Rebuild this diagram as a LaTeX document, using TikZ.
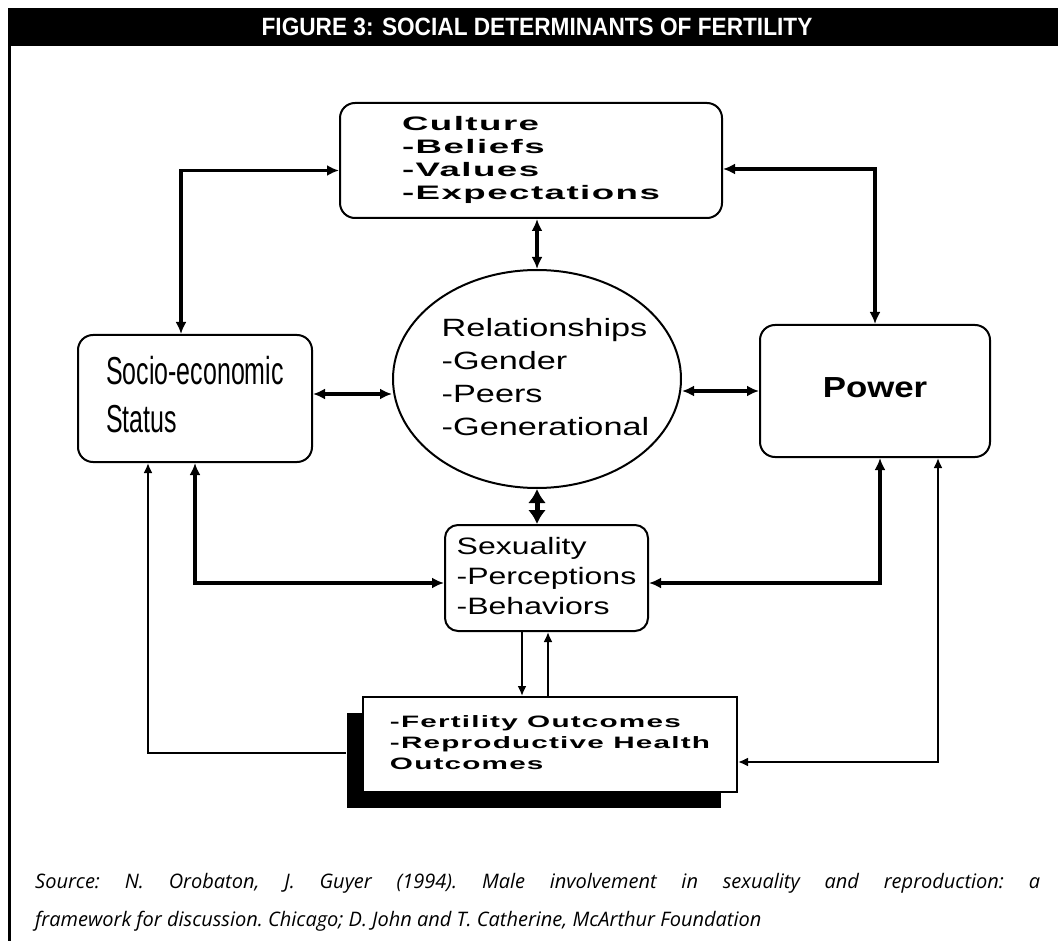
\documentclass[tikz,border=0pt]{standalone}
\usepackage{fontspec}
\usepackage{graphicx}
\setmainfont{Liberation Sans}
\newfontfamily\srcfont{Open Sans}
\usetikzlibrary{arrows.meta,shapes.geometric,shadows}

\newcommand\wideblock[2]{\scalebox{#1}[1]{\begin{tabular}{@{}l@{}}#2\end{tabular}}}
\newcommand\spaced{\bfseries\addfontfeature{LetterSpace=4}}

\tikzset{
  box/.style={draw, line width=2pt, rounded corners=15pt, inner sep=0pt},
  conn/.style={line width=3.2pt, <->},
  thinconn/.style={line width=2pt, >={Latex[length=10pt,width=9pt]}},
  fatconn/.style={line width=5pt, {Latex[length=14pt,width=18pt]}-{Latex[length=14pt,width=18pt]}},
}

\begin{document}
\begin{tikzpicture}[x=1pt,y=-1pt,>={Latex[length=12pt,width=11pt]}]
  \useasboundingbox (0,0) rectangle (1058,941);

  % title bar and frame
  \fill (8,8) rectangle (1058,46);
  \node[text=white, inner sep=0pt] (title) at (537,27)
    {\fontsize{25}{30}\selectfont\bfseries\scalebox{0.906}[1]{FIGURE 3: SOCIAL DETERMINANTS OF FERTILITY}};
  \draw[line width=3pt] (9.5,46) -- (9.5,941);

  % boxes
  \node[box, minimum width=382pt, minimum height=115pt] (culture) at (531,160.5)
    {\fontsize{19.5}{23}\selectfont\spaced\wideblock{1.88}{Culture\\-Beliefs\\-Values\\-Expectations}};
  \node[draw, ellipse, line width=2pt, minimum width=288pt, minimum height=218pt, inner sep=0pt] (rel) at (537,379)
    {\makebox[0pt]{\hspace{17pt}\fontsize{25}{33}\selectfont\wideblock{1.37}{Relationships\\-Gender\\-Peers\\-Generational}}};
  \node[box, minimum width=234pt, minimum height=127pt] (socio) at (195,398.5)
    {\fontsize{39}{48}\selectfont\wideblock{0.64}{Socio-economic\\Status}};
  \node[box, minimum width=230pt, minimum height=132pt] (power) at (875,391)
    {\fontsize{29}{34}\selectfont\bfseries\wideblock{1.2}{Power}};
  \node[box, rounded corners=13pt, minimum width=203pt, minimum height=106pt] (sex) at (546.5,578)
    {\fontsize{23.7}{30}\selectfont\wideblock{1.35}{Sexuality\\-Perceptions\\-Behaviors}};
  \node[draw, fill=white, line width=2pt, minimum width=374pt, minimum height=95pt, inner sep=0pt,
        general shadow={fill=black, shadow xshift=-16pt, shadow yshift=-16pt}] (out) at (550,744.5)
    {\fontsize{16.5}{21}\selectfont\spaced\wideblock{1.8}{-Fertility Outcomes\\-Reproductive Health\\Outcomes}};

  % connections
  \draw[conn] ([xshift=-14pt]socio.north) |- ([yshift=-10pt]culture.west);
  \draw[conn] ([yshift=-8.5pt]culture.east) -| (power.north);
  \draw[conn] (culture.south -| rel.north) -- (rel.north);
  \coordinate (soc-e) at ([yshift=4.5pt]socio.east);
  \draw[conn] (soc-e) -- (soc-e -| rel.west);
  \draw[conn] (power.west -| rel.east) -- (power.west);
  \draw[fatconn] (rel.south) -- (rel.south |- sex.north);
  \draw[conn] (socio.south) |- ([yshift=-5pt]sex.west);
  \draw[conn] ([xshift=5pt]power.south) |- ([yshift=-5pt]sex.east);

  % outcome links
  \draw[thinconn, <-] ([xshift=-47pt]socio.south) |- ([xshift=-16pt,yshift=-8.5pt]out.west);
  \draw[thinconn, <->] ([xshift=63pt]power.south) |- ([yshift=-17.5pt]out.east);
  \coordinate (sex-dn) at ([xshift=-24.5pt]sex.south);
  \coordinate (sex-up) at ([xshift=1.5pt]sex.south);
  \draw[thinconn, ->] (sex-dn) -- (sex-dn |- out.north);
  \draw[thinconn, ->] (sex-up |- out.north) -- (sex-up);

  % source
  \node[anchor=base west, inner sep=0pt] (source) at (35,888)
    {\parbox[t]{1005pt}{\srcfont\itshape\fontsize{20}{38}\selectfont\frenchspacing Source: N. Orobaton, J. Guyer (1994). Male involvement in sexuality and reproduction: a\linebreak framework for discussion. Chicago; D. John and T. Catherine, McArthur Foundation}};
\end{tikzpicture}
\end{document}
